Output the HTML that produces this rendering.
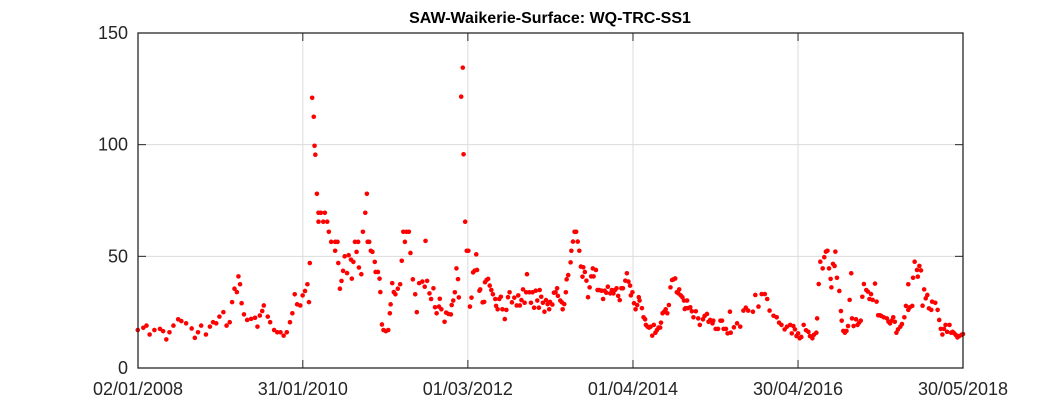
<!DOCTYPE html>
<html><head><meta charset="utf-8"><style>
html,body{margin:0;padding:0;background:#fff;}
svg{display:block;font-family:"Liberation Sans",sans-serif;}
</style></head><body>
<svg id="chart" width="1063" height="413">
<rect x="0" y="0" width="1063" height="413" fill="#fff"/>
<text x="550" y="23" text-anchor="middle" font-size="16" font-weight="bold" fill="#000">SAW-Waikerie-Surface: WQ-TRC-SS1</text>
<g id="grid"></g><g id="pts"></g><g id="axes"></g>
</svg>
<script>
const yTicks=[0,50,100,150];
const xTickVals=[2008.003,2010.082,2012.164,2014.247,2016.329,2018.41];
const xTickLabels=["02/01/2008","31/01/2010","01/03/2012","01/04/2014","30/04/2016","30/05/2018"];
const dates=[2008.0,2008.07,2008.11,2008.15,2008.21,2008.28,2008.32,2008.36,2008.40,2008.45,2008.51,2008.55,2008.61,2008.68,2008.72,2008.76,2008.80,2008.86,2008.91,2008.95,2008.99,2009.03,2009.08,2009.12,2009.16,2009.19,2009.22,2009.25,2009.27,2009.29,2009.31,2009.34,2009.38,2009.43,2009.48,2009.51,2009.54,2009.57,2009.59,2009.64,2009.67,2009.72,2009.76,2009.80,2009.84,2009.88,2009.92,2009.95,2009.98,2010.01,2010.05,2010.08,2010.11,2010.14,2010.16,2010.17,2010.20,2010.22,2010.23,2010.24,2010.26,2010.28,2010.31,2010.28,2010.34,2010.36,2010.39,2010.41,2010.44,2010.49,2010.52,2010.49,2010.53,2010.55,2010.57,2010.59,2010.61,2010.64,2010.66,2010.69,2010.70,2010.72,2010.74,2010.76,2010.78,2010.79,2010.82,2010.84,2010.87,2010.89,2010.90,2010.92,2010.94,2010.96,2010.99,2011.00,2011.03,2011.05,2011.06,2011.08,2011.10,2011.13,2011.16,2011.18,2011.19,2011.21,2011.23,2011.25,2011.28,2011.31,2011.33,2011.35,2011.37,2011.39,2011.42,2011.44,2011.47,2011.50,2011.52,2011.55,2011.59,2011.62,2011.63,2011.65,2011.68,2011.70,2011.73,2011.75,2011.77,2011.80,2011.81,2011.83,2011.87,2011.89,2011.92,2011.95,2011.96,2011.98,2012.00,2012.02,2012.04,2012.05,2012.08,2012.10,2012.11,2012.13,2012.15,2012.17,2012.19,2012.21,2012.23,2012.25,2012.27,2012.28,2012.31,2012.32,2012.35,2012.37,2012.38,2012.40,2012.42,2012.44,2012.46,2012.48,2012.51,2012.52,2012.54,2012.56,2012.58,2012.60,2012.63,2012.65,2012.67,2012.69,2012.72,2012.75,2012.78,2012.80,2012.82,2012.84,2012.86,2012.88,2012.90,2012.91,2012.94,2012.96,2012.98,2013.00,2013.02,2013.04,2013.06,2013.07,2013.09,2013.11,2013.13,2013.15,2013.17,2013.19,2013.20,2013.23,2013.25,2013.27,2013.29,2013.30,2013.33,2013.35,2013.36,2013.38,2013.40,2013.41,2013.43,2013.46,2013.47,2013.49,2013.51,2013.53,2013.55,2013.57,2013.59,2013.61,2013.62,2013.64,2013.66,2013.68,2013.70,2013.72,2013.74,2013.75,2013.78,2013.80,2013.82,2013.85,2013.87,2013.89,2013.91,2013.93,2013.96,2013.98,2014.00,2014.02,2014.04,2014.06,2014.08,2014.10,2014.12,2014.15,2014.17,2014.19,2014.21,2014.22,2014.24,2014.26,2014.28,2014.30,2014.32,2014.33,2014.36,2014.38,2014.40,2014.41,2014.43,2014.45,2014.47,2014.49,2014.51,2014.53,2014.55,2014.57,2014.59,2014.60,2014.62,2014.64,2014.66,2014.68,2014.70,2014.72,2014.74,2014.76,2014.78,2014.80,2014.82,2014.83,2014.85,2014.87,2014.89,2014.91,2014.93,2014.94,2014.90,2014.97,2014.99,2015.01,2015.04,2015.07,2015.09,2015.13,2015.15,2015.18,2015.20,2015.22,2015.25,2015.26,2015.29,2015.32,2015.35,2015.37,2015.39,2015.42,2015.44,2015.47,2015.48,2015.52,2015.56,2015.60,2015.64,2015.67,2015.70,2015.76,2015.79,2015.83,2015.87,2015.91,2015.94,2015.97,2016.02,2016.06,2016.09,2016.12,2016.16,2016.19,2016.23,2016.25,2016.27,2016.29,2016.31,2016.33,2016.35,2016.37,2016.40,2016.43,2016.46,2016.48,2016.51,2016.53,2016.56,2016.57,2016.59,2016.61,2016.64,2016.66,2016.68,2016.70,2016.72,2016.74,2016.75,2016.77,2016.79,2016.80,2016.82,2016.85,2016.87,2016.88,2016.90,2016.92,2016.94,2016.96,2016.98,2017.00,2017.01,2017.03,2017.06,2017.08,2017.10,2017.12,2017.14,2017.16,2017.19,2017.21,2017.23,2017.25,2017.27,2017.30,2017.32,2017.34,2017.36,2017.38,2017.41,2017.45,2017.47,2017.49,2017.51,2017.53,2017.55,2017.57,2017.59,2017.62,2017.64,2017.67,2017.69,2017.72,2017.74,2017.77,2017.72,2017.78,2017.80,2017.83,2017.84,2017.86,2017.88,2017.90,2017.92,2017.94,2017.96,2017.98,2018.01,2018.02,2018.06,2018.09,2018.11,2018.13,2018.15,2018.17,2018.19,2018.21,2018.24,2018.26,2018.28,2018.30,2018.32,2018.34,2018.36,2018.39,2018.41];
const values=[17,18,19,15,17,17.5,16.5,12.8,16,19,21.8,21,20,17.7,13.5,16,19,15,18.5,20.5,20,23,25,19,20.5,29.5,35.5,34,41,37.5,29,24,21.5,22,22.5,18.5,23.5,25.5,28,23,20.5,17,16,16,14.5,16,20.5,24.5,33,28.5,28,32.5,34.5,37.5,29.5,47,121,112.5,99.5,95.5,78,69.5,69.5,65.5,65.5,69.5,65.5,61,56.5,56.5,56.5,52.5,47,35.5,39,43.5,50,42.5,50.5,48.5,40,47.5,56.5,52,56.5,45,42,61,69.5,78,56.5,56.5,52.5,52,47.5,43,43,40,34,19.5,17,16.5,17,24.5,28.5,38,34,33,35.5,37.5,48,61,56.5,61,61,51.5,39.7,33,25,38,38.7,36.4,56.9,39,33.4,30.9,35.7,27.2,24.5,27.5,31,26.3,20.7,24.8,24.2,24,28.2,30.2,33.9,44.6,39.8,31.6,121.5,134.5,95.7,65.5,52.5,52.5,27.5,31.5,42.8,43.6,50.9,43.9,34.6,35.2,29.4,29.6,38.4,39.4,39.9,36.9,34.9,33,30.9,27.8,26.3,30.9,31.9,26.3,21.9,26,31.7,33.9,29.4,31.5,28,32.5,28,30.4,35.2,29.2,33.9,42,33.9,29.2,33.9,27,34.6,30.2,27,34.9,31.9,29.2,25.2,30.4,28.6,26.3,29.6,28.4,33.7,33.9,35.7,32.3,30.2,29.4,26.3,28.6,33.9,39.7,41.6,47.3,52.5,56.6,61,61,56.6,52.5,45.4,40.9,45.1,43,39.1,31.7,36.1,41,44.6,41,43.9,34.9,34.9,34.6,30.9,34.6,33.7,36.4,33.4,34.9,33.4,34.9,35.7,32.3,30.4,35.7,35.7,39.1,42.4,38.7,36.9,32.5,33.9,29,26.3,28.2,31.7,30.2,26.8,22.7,21.8,19.3,18.5,18.1,18.5,14.5,19.3,15.8,17,18.1,18.1,20.3,24.5,25.2,26.3,24.5,28.2,36.1,39.4,39.7,40.1,33.9,33.4,35.2,32.5,31.7,30.2,26.8,30.2,26.8,26.4,27.2,25.4,22.7,25.4,22.2,19.3,21.8,23.3,24.2,20.7,21.5,20,21.2,17.5,17.5,21.2,21.2,17.5,17.5,15.5,25.2,15.8,18.2,20,18.5,25.7,27,25.7,25.2,32.7,27.5,33.1,33.1,30.9,25.7,23.4,22.7,20.3,19.3,17.3,18.5,19.3,15.5,18.8,17.3,14.3,15.5,13.3,13.9,19.3,16.9,16.2,14.3,13.3,14.9,15.8,22.2,37.6,47.6,44.6,49.6,52.1,52.5,44.6,39.9,36.1,46.6,45.7,52.1,40.4,34.5,25.5,21.2,16.6,15.8,16.6,18.8,30.5,42.4,22.2,18.8,21.8,19.3,20.3,21.2,31.9,37.6,34.9,34.2,30.9,33.1,30.5,37.8,29.7,23.6,23.6,23.3,22.7,22.2,20.7,20,21.2,22.7,20.7,15.8,17.3,18.5,19.7,22.7,27.8,26,27.2,27.8,37.5,40.4,47.6,43.9,40.9,45.7,43.7,27.9,35.2,31.2,32.7,26.7,26,29.7,29.2,26,21.5,17.5,15,17.5,19.3,16.2,19.3,15.8,16.2,15.5,14.8,13.7,14.3,14.8,15.2];

const L=138,R=963,T=33,B=368,tMin=2008.003,tMax=2018.41,yMax=150;
const xs=t=>L+(t-tMin)/(tMax-tMin)*(R-L);
const ys=v=>B-v/yMax*(B-T);
const NS="http://www.w3.org/2000/svg";
function mk(tag,attrs,parent){const e=document.createElementNS(NS,tag);for(const k in attrs)e.setAttribute(k,attrs[k]);parent.appendChild(e);return e;}
const grid=document.getElementById('grid'),pts=document.getElementById('pts'),axes=document.getElementById('axes');
yTicks.forEach(v=>{
  const y=ys(v);
  const g=mk('line',{x1:L,x2:R,y1:y,y2:y,stroke:'#dcdcdc','stroke-width':1},grid);
  
  
  mk('line',{x1:L,x2:L+8,y1:y,y2:y,stroke:'#262626'},axes);
  mk('line',{x1:R,x2:R-8,y1:y,y2:y,stroke:'#262626'},axes);
  const t=mk('text',{x:L-10,y:y+6,'text-anchor':'end','font-size':18,fill:'#262626'},axes);
  t.textContent=v;
  
  
});
xTickVals.forEach((tv,i)=>{
  const x=xs(tv);
  const g=mk('line',{x1:x,x2:x,y1:T,y2:B,stroke:'#dcdcdc','stroke-width':1},grid);
  
  
  mk('line',{x1:x,x2:x,y1:B,y2:B-8,stroke:'#262626'},axes);
  mk('line',{x1:x,x2:x,y1:T,y2:T+8,stroke:'#262626'},axes);
  const t=mk('text',{x:x,y:395,'text-anchor':'middle','font-size':18,fill:'#262626'},axes);
  t.textContent=xTickLabels[i];
  
  
});
const box=mk('rect',{x:L,y:T,width:R-L,height:B-T,fill:'none',stroke:'#262626','stroke-width':1.3},axes);


dates.forEach((d,i)=>{
  const c=mk('circle',{cx:xs(d),cy:ys(values[i]),r:2.3,fill:'#ff0000'},pts);
  
  
});
</script>
</body></html>
